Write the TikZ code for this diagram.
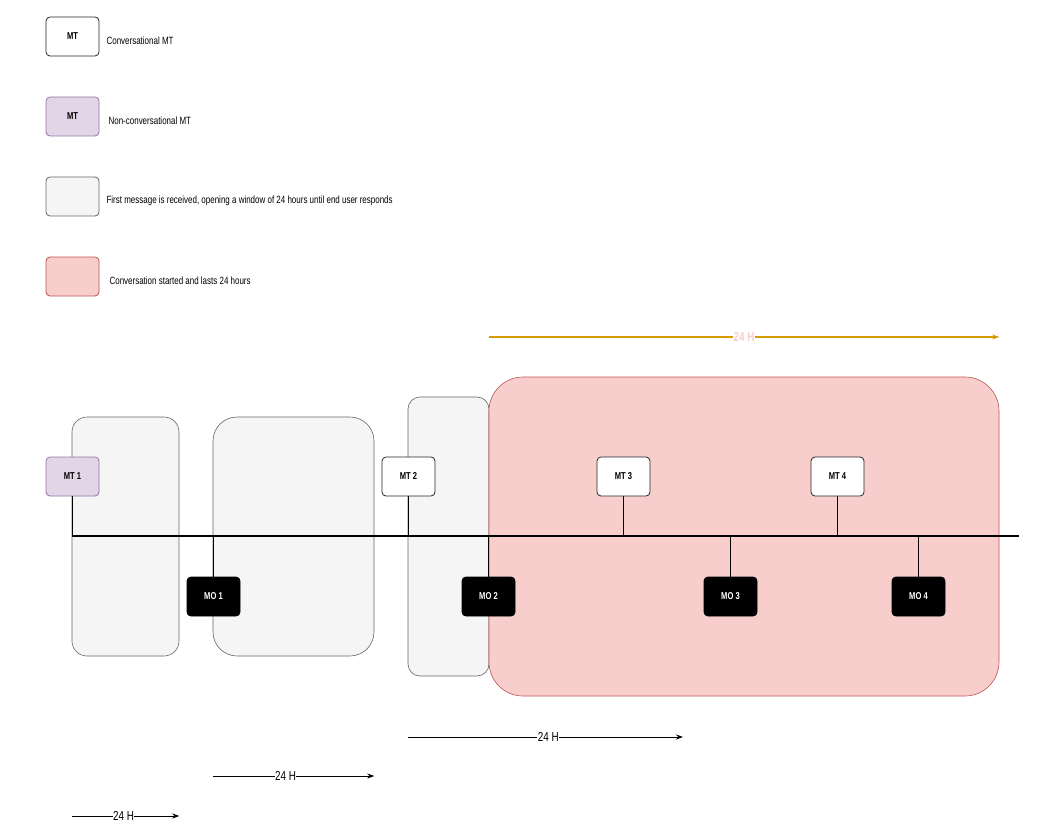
\documentclass[tikz,border=0pt]{standalone}
\usepackage{fontspec}
\setmainfont{Liberation Sans}[FakeStretch=0.76]
\usetikzlibrary{positioning, arrows.meta}

\definecolor{ncFill}{HTML}{E1D5E7}
\definecolor{ncDraw}{HTML}{9673A6}
\definecolor{winFill}{HTML}{F5F5F5}
\definecolor{winDraw}{HTML}{666666}
\definecolor{convFill}{HTML}{F8CECC}
\definecolor{convDraw}{HTML}{B85450}
\definecolor{spanOrange}{HTML}{D79B00}

\begin{document}
\begin{tikzpicture}[x=1pt, y=-1pt, >=stealth,
    msg/.style = {draw, rounded corners=4pt, line width=0.8pt, inner sep=0pt,
        minimum width=53pt, minimum height=39pt, font=\fontsize{10}{12}\selectfont\bfseries},
    conv/.style = {msg, fill=white, draw=black!85},
    nonconv/.style = {msg, fill=ncFill, draw=ncDraw},
    mo/.style = {msg, fill=black, text=white},
    window/.style = {draw=winDraw, fill=winFill, line width=0.6pt, inner sep=0pt},
    legtext/.style = {anchor=west, inner sep=0pt, yshift=-4.5pt, font=\fontsize{10.5}{12}\selectfont},
    stem/.style = {line width=1pt},
    span/.style = {line width=0.9pt, -{Stealth[length=7pt, width=5pt]}},
    spanlabel/.style = {fill=white, inner sep=0.5pt, font=\fontsize{13}{14}\selectfont}]

    \useasboundingbox (0,0) rectangle (1053,832);

    % Legend
    \node [conv] (legconv) at (72.5,36.5) {MT};
    \node [legtext] [right=7pt of legconv] {Conversational MT};
    \node [nonconv] (legnonconv) at (72.5,116.5) {MT};
    \node [legtext] [right=9pt of legnonconv] {Non-conversational MT};
    \node [msg, fill=winFill, draw=winDraw] (legwin) at (72.5,196.5) {};
    \node [legtext] [right=7pt of legwin] {First message is received, opening a window of 24 hours until end user responds};
    \node [msg, fill=convFill, draw=convDraw] (legconvwin) at (72.5,276.5) {};
    \node [legtext] [right=10pt of legconvwin] {Conversation started and lasts 24 hours};

    % Windows
    \node [window, rounded corners=15pt, minimum width=107pt, minimum height=239pt] (win1) at (125.5,536.5) {};
    \node [window, rounded corners=24pt, minimum width=161pt, minimum height=239pt] (win2) at (293.5,536.5) {};
    \node [window, rounded corners=12pt, minimum width=81pt, minimum height=279pt] (win3) at (448.5,536.5) {};
    \node [draw=convDraw, fill=convFill, line width=0.6pt, inner sep=0pt, rounded corners=34pt,
        minimum width=510pt, minimum height=319pt] (convwin) at (744,536.5) {};

    % Timeline
    \coordinate (t0) at (72,536);
    \coordinate (t1) at (1019,536);
    \draw [line width=2pt] (t0) -- (t1);

    % Messages
    \node [nonconv] (mt1) at (72.5,476.5) {MT 1};
    \node [mo] (mo1) at (213.5,596.5) {MO 1};
    \node [conv] (mt2) at (408.5,476.5) {MT 2};
    \node [mo] (mo2) at (488.5,596.5) {MO 2};
    \node [conv] (mt3) at (623.5,476.5) {MT 3};
    \node [mo] (mo3) at (730.5,596.5) {MO 3};
    \node [conv] (mt4) at (837.5,476.5) {MT 4};
    \node [mo] (mo4) at (918.5,596.5) {MO 4};
    \foreach \m in {mt1, mo1, mt2, mo2, mt3, mo3, mt4, mo4}
        \draw [stem] (\m) -- (\m |- t0);

    % Spans
    \coordinate (row0) at (0,337);
    \coordinate (row1) at (0,737);
    \coordinate (row2) at (0,776);
    \coordinate (row3) at (0,816);
    \coordinate (end3) at (683,737);
    \draw [span, line width=1.3pt, draw=spanOrange] (convwin.west |- row0) -- node[spanlabel, text=convFill, font=\fontsize{13}{14}\selectfont\bfseries] {24 H} (convwin.east |- row0);
    \draw [span] (win3.west |- row1) -- node[spanlabel, xshift=3pt] {24 H} (end3);
    \draw [span] (win2.west |- row2) -- node[spanlabel, xshift=-8pt] {24 H} (win2.east |- row2);
    \draw [span] (win1.west |- row3) -- node[spanlabel, xshift=-2pt] {24 H} (win1.east |- row3);
\end{tikzpicture}
\end{document}
